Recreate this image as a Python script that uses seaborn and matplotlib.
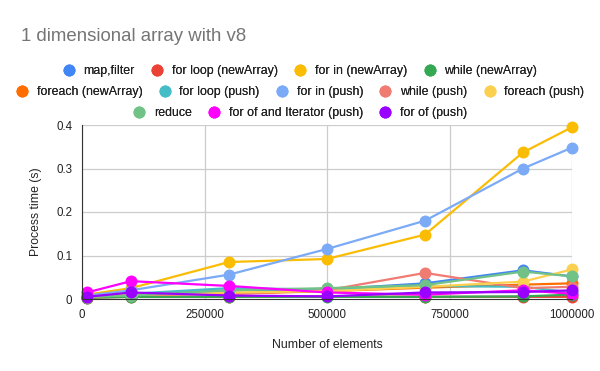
import matplotlib
matplotlib.use("Agg")
import matplotlib.pyplot as plt
import seaborn as sns
import pandas as pd
from matplotlib.lines import Line2D

sizes = [10000, 100000, 300000, 500000, 700000, 900000, 1000000]

series_names = [
    "map,filter", "for loop (newArray)", "for in (newArray)", "while (newArray)",
    "foreach (newArray)", "for loop (push)", "for in (push)", "while (push)",
    "foreach (push)", "reduce", "for of and Iterator (push)", "for of (push)",
]

map_filter = [0.005, 0.010, 0.020, 0.022, 0.036, 0.066, 0.052]
for_loop_new = [0.003, 0.005, 0.005, 0.006, 0.005, 0.005, 0.005]
for_in_new = [0.010, 0.025, 0.085, 0.092, 0.148, 0.337, 0.395]
while_new = [0.003, 0.005, 0.005, 0.005, 0.005, 0.006, 0.010]
foreach_new = [0.005, 0.010, 0.012, 0.018, 0.026, 0.033, 0.036]
for_loop_push = [0.005, 0.012, 0.025, 0.022, 0.030, 0.028, 0.015]
for_in_push = [0.008, 0.020, 0.056, 0.115, 0.180, 0.300, 0.348]
while_push = [0.005, 0.010, 0.012, 0.020, 0.060, 0.025, 0.028]
foreach_push = [0.005, 0.010, 0.015, 0.018, 0.028, 0.040, 0.068]
reduce_ = [0.005, 0.008, 0.020, 0.025, 0.032, 0.063, 0.052]
for_of_iter = [0.015, 0.041, 0.030, 0.015, 0.010, 0.020, 0.012]
for_of_push = [0.005, 0.015, 0.008, 0.006, 0.015, 0.016, 0.020]

values = [map_filter, for_loop_new, for_in_new, while_new, foreach_new, for_loop_push,
          for_in_push, while_push, foreach_push, reduce_, for_of_iter, for_of_push]

colors = ["#4285F4", "#EA4335", "#FBBC04", "#34A853", "#FF6D01", "#46BDC6",
          "#7BAAF7", "#F07B72", "#FCD04F", "#71C287", "#FF00FF", "#9900FF"]

rows = []
for name, vals in zip(series_names, values):
    for n, t in zip(sizes, vals):
        rows.append({"n": n, "t": t, "series": name})
df = pd.DataFrame(rows)

sns.set_style("white")
plt.rcParams["font.family"] = ["Liberation Sans", "DejaVu Sans"]

fig = plt.figure(figsize=(6, 3.71), dpi=100)
ax = fig.add_axes([82/600, 1-299/371, 490/600, 174/371])

palette = dict(zip(series_names, colors))
sns.lineplot(data=df, x="n", y="t", hue="series", hue_order=series_names,
             palette=palette, marker="o", markersize=8.6, markeredgewidth=0,
             linewidth=1.6, legend=False, errorbar=None, ax=ax, sort=False,
             clip_on=False)

ax.set_xlim(0, 1000000)
ax.set_ylim(0, 0.4)
ax.set_xticks([0, 250000, 500000, 750000, 1000000])
ax.set_xticklabels(["0", "250000", "500000", "750000", "1000000"])
ax.set_yticks([0, 0.1, 0.2, 0.3, 0.4])
ax.set_yticklabels(["0", "0.1", "0.2", "0.3", "0.4"])
ax.grid(True, color="#cccccc", linewidth=0.9)
ax.set_axisbelow(True)
for s in ["top", "right"]:
    ax.spines[s].set_visible(False)
ax.spines["left"].set_color("#333333")
ax.spines["bottom"].set_color("#333333")
ax.tick_params(axis="y", length=5, color="#cccccc", labelsize=8.3, labelcolor="#222222", pad=2)
ax.tick_params(axis="x", length=0, labelsize=8.3, labelcolor="#222222", pad=7)
ax.set_xlabel("Number of elements", fontsize=8.8, color="#222222", labelpad=13)
ax.set_ylabel("Process time (s)", fontsize=8.8, color="#222222", labelpad=10)

fig.text(21/600, 1-36.5/371, "1 dimensional array with v8", fontsize=13.4,
         color="#757575", va="center", ha="left")

def handle(c):
    return Line2D([], [], marker="o", linestyle="none", markersize=8.6,
                  markerfacecolor=c, markeredgewidth=0)

row_groups = [(0, 4), (4, 9), (9, 12)]
row_y = [71, 92, 113]
for (a, b), y in zip(row_groups, row_y):
    hs = [handle(colors[i]) for i in range(a, b)]
    ls = series_names[a:b]
    leg = fig.legend(hs, ls, loc="center", bbox_to_anchor=(0.5, 1-y/371),
                     ncol=b-a, frameon=False, fontsize=8.9, handlelength=1.0,
                     handletextpad=0.7, columnspacing=1.3, borderpad=0,
                     labelcolor="#222222")
    fig.add_artist(leg)

fig.savefig("out.png", dpi=100)
